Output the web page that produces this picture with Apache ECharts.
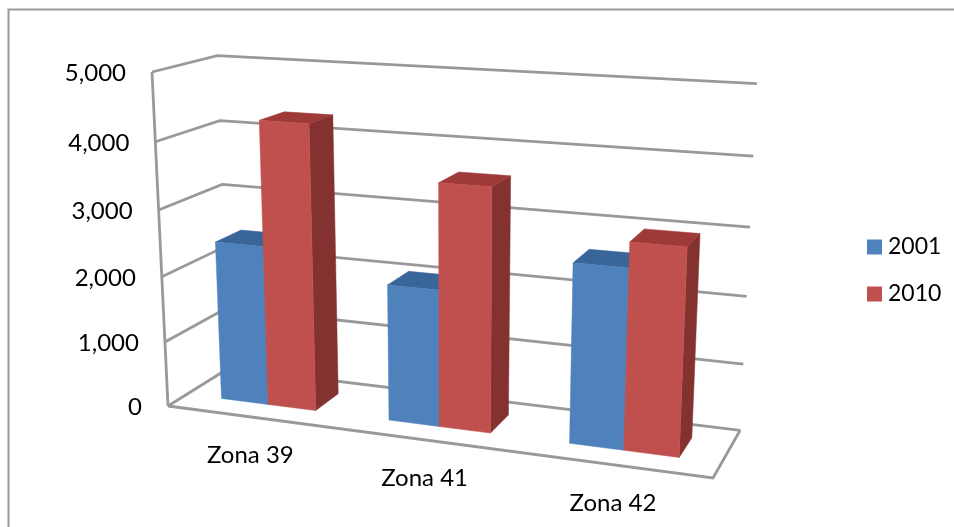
<!DOCTYPE html>
<html>
<head>
<meta charset="utf-8">
<style>html,body{margin:0;padding:0;background:#fff}#chart{width:954px;height:527px}</style>
<script src="https://cdn.jsdelivr.net/npm/echarts@6/dist/echarts.min.js"></script>
</head>
<body>
<div id="chart"></div>
<script>
// Population by zone, two census years
const categories = ['Zona 39', 'Zona 41', 'Zona 42'];
const seriesNames = ['2001', '2010'];
const values2001 = [2440, 2045, 2620];
const values2010 = [4300, 3590, 2980];
const yTicks = [0, 1000, 2000, 3000, 4000, 5000];
const yTickLabels = ['0', '1,000', '2,000', '3,000', '4,000', '5,000'];

const FONT = 'Lato, Carlito, sans-serif';
const GRID_COLOR = '#999999';

// Perspective view of the unit box: x along categories, y along values, z into the page
const cam = {
  o: [168, 406], ax: [713, 478], ay: [152, 72], az: [229, 368],
  wx: -0.11, wy: -0.053, wz: 0.072
};
const axisVec = (p, w) => [p[0] * (1 + w) - cam.o[0], p[1] * (1 + w) - cam.o[1]];
const vx = axisVec(cam.ax, cam.wx), vy = axisVec(cam.ay, cam.wy), vz = axisVec(cam.az, cam.wz);
function project(x, y, z) {
  const w = 1 + cam.wx * x + cam.wy * y + cam.wz * z;
  return [
    (cam.o[0] + vx[0] * x + vy[0] * y + vz[0] * z) / w,
    (cam.o[1] + vx[1] * x + vy[1] * y + vz[1] * z) / w
  ];
}

// Grid pixels from the hidden cartesian axes, as fractions of the plot box
function toUnit(pt, cs) {
  return [(pt[0] - cs.x) / cs.width, (cs.y + cs.height - pt[1]) / cs.height];
}

const GAP_WIDTH = 1.5;          // gap between clusters, in bar widths
const Z_FRONT = 0.30, Z_BACK = 0.72;

function barRenderer(seriesIdx, front, top, side) {
  return function (params, api) {
    const cs = params.coordSys;
    const c = toUnit(api.coord([api.value(0), api.value(1)]), cs);
    const band = api.size([1, 0])[0] / cs.width;
    const bw = band / (seriesNames.length + GAP_WIDTH);
    const x0 = c[0] - bw * seriesNames.length / 2 + bw * seriesIdx, x1 = x0 + bw;
    const h = c[1];
    const poly = (pts, fill) => ({
      type: 'polygon', shape: { points: pts }, style: { fill: fill, stroke: fill, lineWidth: 0.5 }
    });
    const frontFace = [project(x0, 0, Z_FRONT), project(x1, 0, Z_FRONT), project(x1, h, Z_FRONT), project(x0, h, Z_FRONT)];
    const topFace = [project(x0, h, Z_FRONT), project(x1, h, Z_FRONT), project(x1, h, Z_BACK), project(x0, h, Z_BACK)];
    const sideFace = [project(x1, 0, Z_FRONT), project(x1, 0, Z_BACK), project(x1, h, Z_BACK), project(x1, h, Z_FRONT)];
    return { type: 'group', children: [poly(sideFace, side), poly(topFace, top), poly(frontFace, front)] };
  };
}

function line(points) {
  return {
    type: 'polyline', shape: { points: points },
    style: { stroke: GRID_COLOR, lineWidth: 2.8, fill: null, lineJoin: 'miter' }
  };
}

// Walls and floor: one bent gridline per tick, plus the front edges
function wallRenderer(params, api) {
  const cs = params.coordSys;
  const y = toUnit(api.coord([0, api.value(0)]), cs)[1];
  const children = [line([project(0, y, 0), project(0, y, 1), project(1, y, 1)])];
  if (params.dataIndex === 0) {
    children.push(line([project(0, 0, 0), project(1, 0, 0), project(1, 0, 1)]));
    children.push(line([project(0, 0, 0), project(0, 1, 0)]));
  }
  const p = project(0, y, 0);
  children.push({
    type: 'text',
    style: {
      x: p[0] - 26, y: p[1] + 1.5, text: yTickLabels[params.dataIndex],
      fill: '#000', fontFamily: FONT, fontSize: 24, align: 'right', verticalAlign: 'middle'
    }
  });
  return { type: 'group', children: children };
}

function categoryLabelRenderer(params, api) {
  const cs = params.coordSys;
  const c = toUnit(api.coord([api.value(0), 0]), cs);
  const p = project(c[0], 0, 0);
  return {
    type: 'text',
    style: {
      x: p[0], y: p[1] + 38, text: categories[params.dataIndex],
      fill: '#000', fontFamily: FONT, fontSize: 24, align: 'center', verticalAlign: 'middle'
    }
  };
}

const chart = echarts.init(document.getElementById('chart'), null, { renderer: 'canvas' });
chart.setOption({
  animation: false,
  backgroundColor: '#fff',
  grid: { left: 100, top: 100, width: 400, height: 300 },
  xAxis: { type: 'category', data: categories, show: false },
  yAxis: { type: 'value', min: 0, max: 5000, interval: 1000, show: false },
  legend: {
    data: seriesNames, orient: 'vertical', left: 867, top: 234, padding: 0,
    icon: 'rect', itemWidth: 15, itemHeight: 15, itemGap: 21,
    textStyle: { fontFamily: FONT, fontSize: 23, color: '#000', lineHeight: 26, padding: [0, 0, 0, 1] },
    selectedMode: false
  },
  graphic: [{
    type: 'polyline', silent: true,
    shape: { points: [[8.5, 527], [8.5, 9.5], [954, 9.5]] },
    style: { stroke: '#999999', lineWidth: 2, fill: null }
  }],
  series: [
    {
      name: 'walls', type: 'custom', silent: true, renderItem: wallRenderer,
      data: yTicks.map(v => [v]), encode: { y: 0 }
    },
    {
      name: seriesNames[0], type: 'custom', silent: true, itemStyle: { color: '#4F81BD' },
      renderItem: barRenderer(0, '#4F81BD', '#3A6598', '#35608F'),
      data: categories.map((c, i) => [i, values2001[i]]), encode: { x: 0, y: 1 }
    },
    {
      name: seriesNames[1], type: 'custom', silent: true, itemStyle: { color: '#C0504D' },
      renderItem: barRenderer(1, '#C0504D', '#9E3B39', '#833230'),
      data: categories.map((c, i) => [i, values2010[i]]), encode: { x: 0, y: 1 }
    },
    {
      name: 'labels', type: 'custom', silent: true, renderItem: categoryLabelRenderer,
      data: categories.map((c, i) => [i]), encode: { x: 0 }
    }
  ]
});
</script>
</body>
</html>
